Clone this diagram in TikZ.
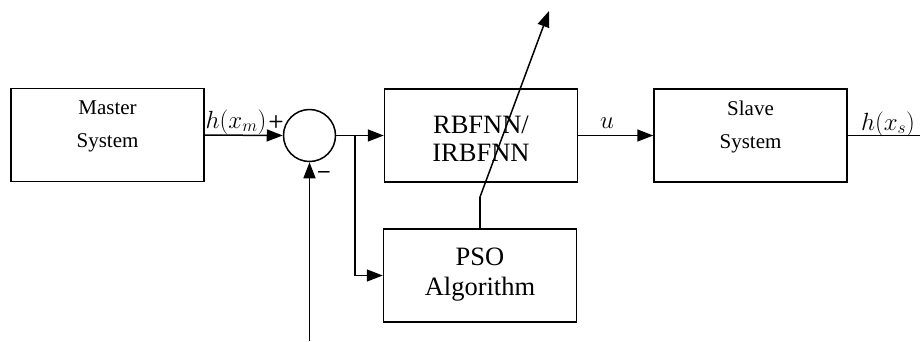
\documentclass[tikz,border=0pt]{standalone}
\usepackage{fontspec}
\setmainfont{Liberation Serif}
\usetikzlibrary{arrows.meta}
\begin{document}
\begin{tikzpicture}[x=1pt,y=-1pt,
  blk/.style={draw, line width=1.5pt, rectangle, minimum width=193pt, minimum height=93pt, inner sep=0pt},
  con/.style={line width=1.5pt},
  arr/.style={con, -{Triangle[length=16pt,width=12pt]}},
  smalltxt/.style={align=center, font=\fontsize{21}{33}\selectfont},
  bigtxt/.style={align=center, font=\fontsize{26.5}{28}\selectfont},
  mlab/.style={font=\fontsize{25}{25}\selectfont, inner sep=0pt}
]
\useasboundingbox (0,0) rectangle (920,341);

\node[blk] (master) at (107.5,135) {};
\node[smalltxt] (mastert) at (107.5,126.5) {Master\\System};
\node[draw, circle, line width=1.5pt, minimum size=52pt, inner sep=0pt] (sum) at (309.5,135.5) {};
\node[blk] (rbf) at (481,135.5) {};
\node[bigtxt] (rbft) at (481,138.5) {RBFNN/\\IRBFNN};
\node[blk] (pso) at (480,275.5) {};
\node[bigtxt, font=\fontsize{26.5}{30}\selectfont] (psot) at (480,275) {PSO\\Algorithm};
\node[blk] (slave) at (750.5,135.5) {};
\node[smalltxt] (slavet) at (750.5,126.5) {Slave\\System};

\coordinate (br) at (355,135.5);
\coordinate (fb) at (309.5,341);
\coordinate (out) at (920,135.5);
\coordinate (kink) at (480,197);
\coordinate (tip) at (549,11);

\draw[arr] (master.east) -- (sum.west);
\draw[con] (sum.east) -- (br);
\draw[arr] (br) -- (rbf.west);
\draw[arr] (br) |- (pso.west);
\draw[arr] (fb) -- (sum.south);
\draw[arr] (rbf.east) -- (slave.west);
\draw[con] (slave.east) -- (out);
\draw[con] (pso.north) -- (kink);
\draw[arr] (kink) -- (tip);

\node[mlab] (hxm) at (236,122) {$h(x_m)$};
\node[font=\sffamily\bfseries\fontsize{18}{18}\selectfont, inner sep=0pt] (plus) at (276,122) {+};
\node[font=\sffamily\bfseries\fontsize{22}{22}\selectfont, inner sep=0pt] (minus) at (324,175) {--};
\node[mlab] (ulab) at (607,123) {$u$};
\node[mlab] (hxs) at (888,124) {$h(x_s)$};
\end{tikzpicture}
\end{document}
